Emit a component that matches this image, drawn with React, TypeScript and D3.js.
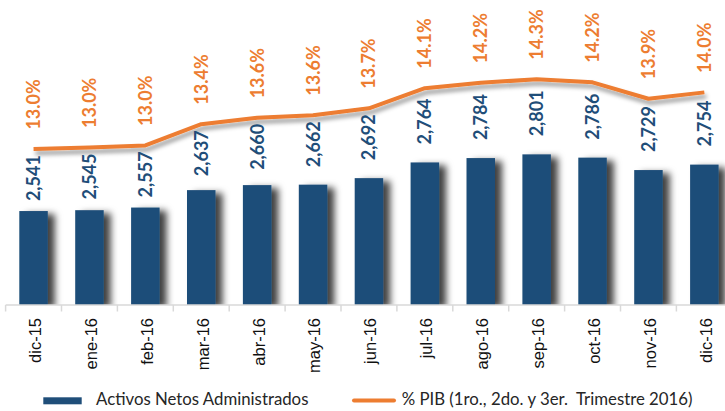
import React from 'react';
import * as d3 from 'd3';

const months = ["dic-15", "ene-16", "feb-16", "mar-16", "abr-16", "may-16", "jun-16", "jul-16", "ago-16", "sep-16", "oct-16", "nov-16", "dic-16"];
const activos = [2541, 2545, 2557, 2637, 2660, 2662, 2692, 2764, 2784, 2801, 2786, 2729, 2754];
const pib = [12.97, 13.0, 13.04, 13.44, 13.56, 13.61, 13.74, 14.12, 14.22, 14.29, 14.23, 13.92, 14.04];
const legendBar = "Activos Netos Administrados";
const legendLine = "% PIB (1ro., 2do. y 3er.  Trimestre 2016)";

const W = 725;
const H = 411;
const baseY = 305;
const blue = "#1F4E79";
const orange = "#ED7D31";

export default function App() {
    const x = d3.scaleBand<string>()
        .domain(months)
        .range([5.6, 732.3])
        .paddingInner(0.49)
        .paddingOuter(0.245);

    // bars start from 2110, not zero
    const yBar = d3.scaleLinear().domain([2110, 2900]).range([baseY, baseY - 790 * 0.218]);
    const yPct = d3.scaleLinear().domain([12, 15]).range([200.5, 41.5]);

    const cx = (m: string) => (x(m) as number) + x.bandwidth() / 2;
    const step = x.step();
    const x0 = x.range()[0];

    const line = d3.line<number>()
        .x((d, i) => cx(months[i]))
        .y(d => yPct(d));

    const fmt = d3.format(",");

    return (
        <svg width={W} height={H} style={{ position: 'absolute', left: 0, top: 0, background: '#fff' }}>
            <defs>
                <filter id="shadow" x="-50%" y="-20%" width="200%" height="150%">
                    <feDropShadow dx="7" dy="3" stdDeviation="3.8" floodColor="#000" floodOpacity="0.75" />
                </filter>
                <filter id="lineShadow" x="-10%" y="-50%" width="120%" height="200%">
                    <feDropShadow dx="2" dy="4" stdDeviation="2" floodColor="#000" floodOpacity="0.4" />
                </filter>
                <clipPath id="plotClip">
                    <rect x={0} y={0} width={W} height={baseY} />
                </clipPath>
            </defs>

            <g clipPath="url(#plotClip)">
                <g filter="url(#shadow)">
                    {activos.map((v, i) => (
                        <rect key={months[i]}
                            x={x(months[i])}
                            y={yBar(v)}
                            width={x.bandwidth()}
                            height={baseY - yBar(v)}
                            fill={blue} />
                    ))}
                </g>
            </g>

            {/* axis */}
            <line x1={x0} x2={W} y1={baseY} y2={baseY} stroke="#D9D9D9" strokeWidth={1.5} />
            {d3.range(months.length + 1).map(i => (
                <line key={i} x1={x0 + i * step} x2={x0 + i * step} y1={baseY} y2={baseY + 6.5}
                    stroke="#D9D9D9" strokeWidth={1.5} />
            ))}
            {months.map(m => (
                <text key={m} transform={`translate(${cx(m)},318) rotate(-90)`}
                    dy="0.45em" textAnchor="end"
                    fontFamily="'Liberation Sans', Arial, sans-serif" fontSize={16.5} fill="#111">
                    {m}
                </text>
            ))}

            <path d={line(pib) as string} fill="none" stroke={orange} strokeWidth={4}
                strokeLinejoin="round" filter="url(#lineShadow)" />

            {/* bar labels */}
            {activos.map((v, i) => {
                const y = Math.max(yBar(v) - 18, yPct(pib[i]) + 52);
                return (
                    <text key={months[i]} transform={`translate(${cx(months[i])},${y}) rotate(-90)`}
                        dy="0.36em" fontFamily="Lato, sans-serif" fontWeight="bold" fontSize={18} fill={blue}>
                        {fmt(v)}
                    </text>
                );
            })}

            {/* pct labels */}
            {pib.map((p, i) => (
                <text key={months[i]} transform={`translate(${cx(months[i])},${yPct(p) - 19.5}) rotate(-90)`}
                    dy="0.36em" fontFamily="Lato, sans-serif" fontWeight="bold" fontSize={18} fill={orange}>
                    {p.toFixed(1)}%
                </text>
            ))}

            {/* legend */}
            <rect x={43.3} y={397.3} width={38.4} height={7} fill={blue} />
            <text x={96} y={405} fontFamily="Lato, sans-serif" fontSize={16.8} fill="#262626">{legendBar}</text>
            <line x1={354} x2={394} y1={400.5} y2={400.5} stroke={orange} strokeWidth={4} strokeLinecap="round" />
            <text x={401.7} y={405} fontFamily="Lato, sans-serif" fontSize={16.8} fill="#262626"
                style={{ whiteSpace: 'pre' }}>{legendLine}</text>
        </svg>
    );
}
